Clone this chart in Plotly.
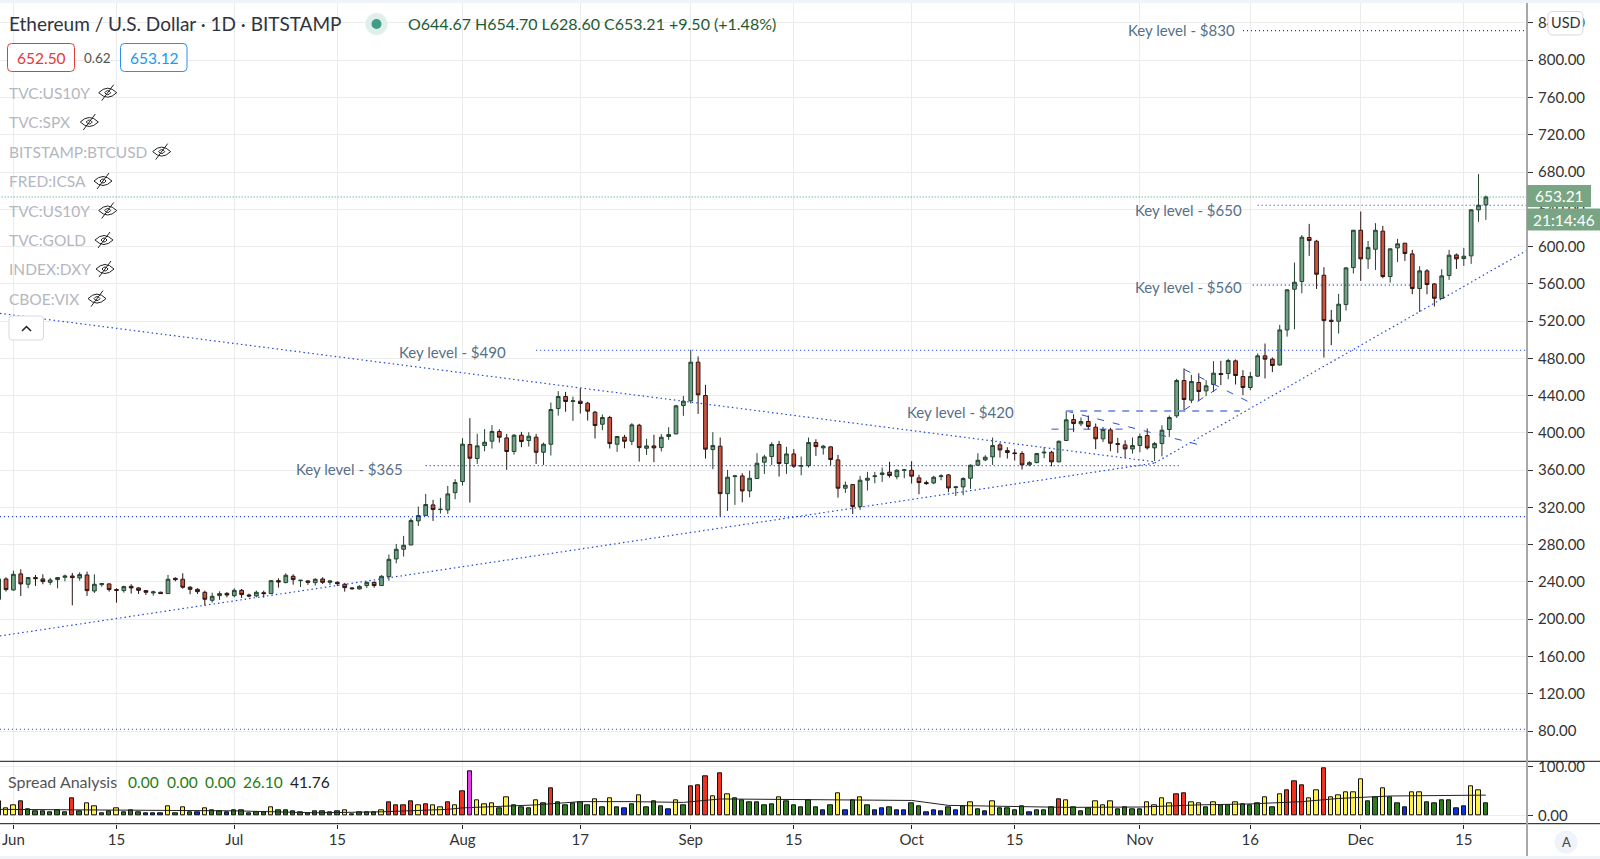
import pandas as pd
import plotly.graph_objects as go

FONT = "Lato"

# --- Daily candles, 2020-05-30 .. 2020-12-18
opens = [221.4, 243.2,
    231.4,248.6,237.5,244.7,243.2,239.6,242.5,245,246.4,244.3,247.5,230.3,237.1,237.9,231.8,230.7,235.3,233.6,230.7,228.2,228.9,227.5,243.9,242.9,234.3,232.1,228.9,220.3,225.3,227.8,
    225.3,231,226,225,228.5,227.5,241.4,239.3,246.1,241.4,241.1,239.3,243.2,239.6,239.6,237.5,233.6,232.5,236.1,239.6,236.1,245.7,264.7,275.1,279.7,305.5,311.2,322.7,317.7,317.3,335.9,
    347.8,387.5,372.5,386.4,391.1,401.4,394.6,380,397.5,391.8,395.3,379.2,387.8,426.1,439,433.7,434,431.9,422.2,409.3,416.5,387.8,395.3,391,408.2,383.5,386,384.2,396.1,398.9,429.4,
    434.4,475.9,440.1,382.1,385.7,334.8,353.1,353.8,337.7,351,368.5,374.6,387.5,367.1,377.4,364.2,364.9,389.6,383.9,385,371,340.6,344.5,320.9,349.2,353.1,355.3,357.8,353.1,359.9,
    359.9,351.7,346.7,346.3,353.1,354.9,341.3,342,351.3,365.3,371,374.2,387.1,381,378.5,377.8,365.6,368.1,378.5,379.2,368.9,391.8,414.3,409.7,412.2,406.1,393.6,403.2,388.5,387.1,382.8,
    386.4,397.1,383.9,388.5,403.6,418.3,456.2,435.1,454.1,445.1,451.9,463.7,463.7,477.3,460.5,448.7,460.9,482.7,479.1,472.9,510.5,554.2,562.4,609.7,605.7,569.2,520.9,519.8,537.7,577.4,
    617.5,586.8,597.1,616.5,567.8,598.6,603.6,592.1,554.9,573.9,559.9,544.2,568.9,591,587.1,590,639.4,644.67]
closes = [243.2, 231.8,
    248.2,237.9,244.7,243.6,240.4,242.1,244.7,246.4,244.7,247.9,230.7,237.5,238.2,231.8,231,235,233.6,231,228.9,229.3,227.5,242.9,242.5,234.3,232.1,229.6,221.4,224.6,227.5,226,
    231,226.4,225,228.9,227.5,241.4,240,247.2,242.5,241.8,239.6,242.9,239.6,241.1,238.2,233.9,232.8,235.3,239.6,236.1,246.1,264.3,275.1,279.4,305.9,311.2,323.1,317.7,318,334.5,346.7,
    387.9,372.8,386.1,390,401.5,395.3,380,397.5,390.7,396.4,379.2,387.8,425.1,439,433.7,434.4,431.5,423.3,407.9,416.5,388.5,396.1,391,408.6,384.2,386,383.9,395.3,398.2,429,434,
    475.9,440.8,382.5,386.4,334.8,352.4,353.8,337.7,351.3,367.4,374.2,387.5,367.1,377.4,364.2,364.9,389.6,385.3,385.7,371.4,340.6,343.8,320.9,349.2,351.3,353.8,357,354.2,359.9,360.3,
    353.5,346.7,345.6,352.4,353.8,340.9,342,351,365.3,370.6,373.9,386.4,381.7,378.9,377.8,365.6,368.1,377.8,379.2,368.9,391,414,410,412.2,406.8,393.6,403.6,388.9,387.8,382.8,386.4,
    396.1,383.9,388.5,402.9,416.5,456.2,435.8,455.1,444.4,450.5,464.1,462.7,477.7,461.6,448.7,460.5,482.7,479.1,472.3,510.5,553.5,561.7,610,606.4,570.3,520.5,519.8,538.1,577.1,617.5,
    586.8,598.9,617.5,567.8,597.5,602.9,592.5,554.9,573.9,559.2,544.5,568.5,590.7,586.8,589.6,639.4,644.4,653.21]
highs = [244, 245,
    252.2,253.6,245,247.5,248.2,244.3,245,247.9,249.7,250.4,251.1,248.2,238.9,238.6,233.2,236,237.5,234.3,231.4,230.7,229.6,247.5,245,249.3,235.7,233.2,230.7,228.5,230,228.9,
    233.2,232.5,227.5,230.7,230.7,242.1,243.9,249.3,248.2,242.1,241.8,243.9,245,242.1,240.7,238.9,234.3,236.4,240.4,240.4,247.2,269.4,280.8,289.4,308.4,320.9,334.5,328.1,330.2,343.1,350.3,
    394.3,415.8,399,404,408.3,403.9,398.9,398.6,401.1,400.7,398.9,389.6,432.6,444.8,444,439,448,433.3,423.6,419.7,418.3,396.8,397.9,410.4,409.7,393.6,397.9,398.6,406.1,430.1,439.7,
    489.1,482,451.6,400.7,395,360.3,354.9,356.7,359.5,378.2,376.4,390,391.4,385,382.5,374.6,395,393.2,387.1,385.3,376.4,347.7,345.2,353.8,358.1,358.1,362.8,368.9,361,361.3,
    369.6,354.9,348.8,353.8,355.6,355.6,343.1,352.4,366,378.2,376,395,389.3,384.6,382.5,380.3,369.6,378.5,384.6,380.7,391.8,423.3,420,416.5,418.6,410,406.4,405.4,394.6,392.1,395,
    399.3,404.7,390.3,408.2,418.6,458,469.1,462.3,464.1,456.6,477,477.3,479.5,478.8,467.3,465.5,485.2,495.9,480.9,515.9,554.2,582.8,612.2,624.3,607.2,577.8,532,549.2,577.8,617.9,
    637.6,606.1,625.1,622.2,598.2,608.2,603.9,596.4,578.9,575.7,560.6,575.7,596.4,592.5,598.6,640.1,677.7,654.7]
lows = [219, 229.6,
    230.7,225,233.2,235.7,237.5,236.8,233.2,240.7,214.9,241.4,225,228.2,235,229.6,217.8,228.5,227.5,227.1,226,225.3,227.1,227.1,240.7,232.8,226.8,227.1,214.9,217.8,220.7,223.5,
    223.5,222.8,223.5,223.5,223.2,227.1,233.9,238.6,237.1,234.6,236.8,236.1,237.9,236.8,235.7,229.6,231.8,231.8,233.6,233.9,235.7,241.4,260,267.2,279.4,300.1,310.9,305.5,313.4,313,328.8,
    343.5,325.2,366.7,380.3,383.2,389.6,360.3,376.7,384.6,385.3,366.7,365.6,375.7,418.6,422.6,412.9,420.8,413.2,393.9,402.9,383.2,379.6,383.5,386.8,369.2,376.4,368.5,380,392.5,398.6,418.3,
    431.5,420.4,372.4,361,310.1,316.2,322.7,325.5,330.9,350.6,356,365.3,353.1,356,362.4,354.5,362.8,375.3,376.7,365.3,330.5,335.6,313,317.3,338.1,345.9,347.4,352,350.2,351.3,
    345.6,334.1,344.2,344.9,349.2,336.3,332.3,333.1,339.9,364.6,369.6,365.6,373.5,372.4,370.3,360.6,364.2,367.4,372.8,364.2,368.5,391.4,401.1,407.2,403.6,382.5,390.3,380.3,378.5,373.2,377.8,
    379.2,382.1,369.9,374.9,395.7,416.1,423.3,431.9,434,439.4,444,451.2,457.6,451.9,440.5,445.8,460.1,458.4,465.2,472.2,503.3,511.2,549.9,590,554.5,480.8,494,506.6,531.3,571,
    563.1,576,574.9,566,561.3,583.5,584.6,548.8,529.8,548.8,535.6,543.8,564.2,576,579.2,581.4,626.5,628.6]

# --- Spread Analysis histogram
spread = [28.6, 15,
    21.8,28.6,12.2,9.5,8.8,6.8,10.9,6.8,35.4,8.8,25.8,19,4.8,8.8,15.6,7.5,10.2,6.8,5.4,5.4,4.8,19,4.8,17.7,7.5,6.8,15.6,10.9,9.5,6.1,
    10.9,10.2,5.4,6.8,6.8,16.3,10.2,10.2,9.5,7.5,5.4,8.2,8.2,7.5,8.2,10.2,4,7.5,7.5,7.5,11.6,27.9,20.4,20.4,28.6,20.4,23.1,21.8,16.3,27.9,20.4,
    50.3,90.5,32,23.1,24.5,15,37.4,21.8,17,15.6,32,24.5,55.8,27.2,21.1,24.5,26.5,21.1,34,17,34.7,17.7,14.3,23.1,40.8,17,28.6,18.4,12.9,32,21.8,
    59.2,61.9,79.6,38.8,85.7,44.2,34.7,32,27.9,27.9,21.1,23.1,38.1,29.3,21.1,17.7,31.3,17,11.6,20.4,45.6,11.6,32,36.7,20.4,10.2,15,17,10.2,10.2,
    24.5,19,6.8,10.2,8.2,17.7,10.2,19,27.9,12.9,8.2,29.3,15,15,11.6,19,6.8,10.2,11.6,16.3,34,30.6,17.7,8.8,14.3,29.3,20.4,29.3,12.9,17,12.9,
    12.9,27.2,20.4,34.7,25.8,43.5,44.9,27.9,25.8,17,27.2,20.4,20.4,27.2,23.1,21.8,25.2,38.1,17,43.5,51,70.7,61.9,34.7,51.7,95.9,36.7,42.2,46.9,46.9,
    74.1,29.3,37.4,55.1,38.1,25.2,17.7,46.9,47.6,27.2,25.2,31.3,31.3,15,19,59.2,51,26.1]
spread_classes = ("RY"
    "YRGGGGGGRGYYGGYGGGBBBYGYGBYGGB"
    "GGGGGYGGGGGGGGGYGGGGYRRRRYRYYRY"
    "RMYYYGYGGGYGRGGGGGYGYGBGYGGGBYG"
    "RRRYRYGGGGGGYGGGGGBGYBGYGBBGBB"
    "GGBBBGBGYGBYGGGGBGGGRYGGGYYYGGG"
    "GYYYYRRYYGYGGYGGGYGYRRRYYRYYYY"
    "YGGYGGBYYGGGGBBYYG")
ma_dates = ["2020-05-30","2020-06-16","2020-06-23","2020-07-01","2020-07-12","2020-07-21","2020-07-30","2020-08-01",
            "2020-08-11","2020-08-17","2020-08-24","2020-08-31","2020-09-05","2020-09-16","2020-10-01","2020-10-06",
            "2020-10-15","2020-10-22","2020-11-01","2020-11-09","2020-11-16","2020-11-23","2020-11-28","2020-12-05","2020-12-18"]
ma_values = [13,11.6,11.6,10,6,8,13,16,22,28.6,28.6,27,34,32.6,31,21,18,17,17.7,22,24,28.6,35,40,41.76]

# --- Axis ticks
x_tick_dates = ["2020-06-01","2020-06-15","2020-07-01","2020-07-15","2020-08-01","2020-08-17","2020-09-01",
                "2020-09-15","2020-10-01","2020-10-15","2020-11-01","2020-11-16","2020-12-01","2020-12-15"]
x_tick_labels = ["Jun","15","Jul","15","Aug","17","Sep","15","Oct","15","Nov","16","Dec","15"]
price_ticks = list(range(80, 841, 40))
spread_ticks = [0, 100]

# --- Drawn levels: (start, end, value)
dotted_levels = [("2020-05-30 04:00","2020-12-23 14:00",310.2),
                 ("2020-05-30 04:00","2020-12-23 14:00",81.9),
                 ("2020-11-15","2020-12-23 14:00",831.8),
                 ("2020-11-17","2020-12-23 14:00",644.3),
                 ("2020-11-16 08:00","2020-12-07 16:00",558.5),
                 ("2020-08-11","2020-12-23 14:00",488.7),
                 ("2020-07-27","2020-11-06 14:00",364.8)]
# --- Trend lines: (date0, value0, date1, value1)
dotted_trends = [("2020-05-30 04:00",528.3,"2020-11-03",369),
                 ("2020-05-30 04:00",182,"2020-11-03",367.6),
                 ("2020-11-03",367.6,"2020-12-23 14:00",596)]
dark_dashes = [("2020-10-22",423.5,"2020-11-09 16:00",386),
               ("2020-10-20",404,"2020-10-30",404),
               ("2020-11-07",468.3,"2020-11-15 22:00",432.8),
               ("2020-11-07",424.5,"2020-11-11 22:00",449.6)]
light_dashes = [("2020-10-22",423.5,"2020-11-14 14:00",423.5)]

last_close = 653.21
dates = pd.date_range("2020-05-30", periods=len(opens), freq="D")
assert len(opens) == len(closes) == len(highs) == len(lows) == len(spread) == len(spread_classes) == 203

W, H = 1600, 859
AXIS_X = 1527
def px(x): return x / W
def py(y): return 1 - y / H

class_colors = {"R": "#f0321e", "Y": "#fff04a", "G": "#2f7a1d", "B": "#0a2fe8", "M": "#e83de8"}

fig = go.Figure()
fig.add_trace(go.Candlestick(
    x=dates, open=opens, high=highs, low=lows, close=closes, whiskerwidth=0, xaxis="x", yaxis="y",
    increasing=dict(line=dict(color="#24402f", width=1), fillcolor="#6fa284"),
    decreasing=dict(line=dict(color="#2a1512", width=1), fillcolor="#cd5540"),
    showlegend=False, hoverinfo="skip"))

def seg(x0, v0, x1, v1, color, dash, width):
    fig.add_trace(go.Scatter(x=[x0, x1], y=[v0, v1], mode="lines", xaxis="x", yaxis="y",
                             line=dict(color=color, width=width, dash=dash),
                             showlegend=False, hoverinfo="skip"))

for d0, d1, v in dotted_levels:
    seg(d0, v, d1, v, "#0f2fd0", "1px 3px", 1.2)
for d0, v0, d1, v1 in dotted_trends:
    seg(d0, v0, d1, v1, "#2348d2", "1.5px 3px", 1.2)
for d0, v0, d1, v1 in dark_dashes:
    seg(d0, v0, d1, v1, "#2a50d8", "7px 9px", 1)
for d0, v0, d1, v1 in light_dashes:
    seg(d0, v0, d1, v1, "#8a9ee2", "7px 7px", 2)
seg(dates[0], last_close, "2020-12-23 14:00", last_close, "#2f9a5e", "1px 2px", 1)

fig.add_trace(go.Bar(x=dates, y=spread, xaxis="x", yaxis="y2",
                     marker=dict(color=[class_colors[c] for c in spread_classes],
                                 line=dict(color="#111111", width=1)),
                     width=4.4 / 7.37 * 86400000, showlegend=False, hoverinfo="skip"))
fig.add_trace(go.Scatter(x=ma_dates, y=ma_values, mode="lines", xaxis="x", yaxis="y2",
                         line=dict(color="#222222", width=1), showlegend=False, hoverinfo="skip"))

shapes, annotations = [], []

def text(x, y, s, size=15, color="#333333", anchor="left"):
    shift = -2.5 if anchor == "left" else 0
    annotations.append(dict(x=px(x + shift), y=py(y), xref="paper", yref="paper", text=s, showarrow=False,
                            xanchor=anchor, yanchor="middle", align=anchor,
                            font=dict(family=FONT, size=size, color=color)))

def box(x0, y0, x1, y1, line="rgba(0,0,0,0)", fill="#ffffff", lw=1):
    shapes.append(dict(type="rect", xref="paper", yref="paper", x0=px(x0), x1=px(x1), y0=py(y0), y1=py(y1),
                       line=dict(color=line, width=lw), fillcolor=fill, layer="above"))

def rounded(x0, y0, x1, y1, r, line, fill="#ffffff", lw=1):
    p = (f"M{px(x0+r)},{py(y0)} L{px(x1-r)},{py(y0)} Q{px(x1)},{py(y0)} {px(x1)},{py(y0+r)} "
         f"L{px(x1)},{py(y1-r)} Q{px(x1)},{py(y1)} {px(x1-r)},{py(y1)} L{px(x0+r)},{py(y1)} "
         f"Q{px(x0)},{py(y1)} {px(x0)},{py(y1-r)} L{px(x0)},{py(y0+r)} Q{px(x0)},{py(y0)} {px(x0+r)},{py(y0)} Z")
    shapes.append(dict(type="path", xref="paper", yref="paper", path=p, layer="above",
                       line=dict(color=line, width=lw), fillcolor=fill))

def hline(y, x0, x1, color, width):
    shapes.append(dict(type="line", xref="paper", yref="paper", x0=px(x0), x1=px(x1), y0=py(y), y1=py(y),
                       line=dict(color=color, width=width), layer="above"))

def circle(cx, cy, r, fill):
    shapes.append(dict(type="circle", xref="paper", yref="paper", x0=px(cx-r), x1=px(cx+r), y0=py(cy-r), y1=py(cy+r),
                       line=dict(width=0), fillcolor=fill, layer="above"))

def eye(cx, cy):
    p = (f"M{px(cx-9)},{py(cy)} Q{px(cx)},{py(cy-9)} {px(cx+9)},{py(cy)} Q{px(cx)},{py(cy+9)} {px(cx-9)},{py(cy)} Z "
         f"M{px(cx-3)},{py(cy)} Q{px(cx)},{py(cy-4)} {px(cx+3)},{py(cy)} Q{px(cx)},{py(cy+4)} {px(cx-3)},{py(cy)} Z "
         f"M{px(cx-6)},{py(cy+8)} L{px(cx+6)},{py(cy-8)}")
    shapes.append(dict(type="path", xref="paper", yref="paper", path=p, line=dict(color="#222222", width=1), layer="above"))

# Frame
box(0, 0, W, 3, fill="#f0f3fa")
box(0, 856, W, H, fill="#f0f3fa")
hline(761.3, 0, W, "#111111", 1)
hline(823.7, 0, W, "#111111", 1)
shapes.append(dict(type="line", xref="paper", yref="paper", x0=px(AXIS_X), x1=px(AXIS_X), y0=py(3), y1=py(856),
                   line=dict(color="#a8a8a8", width=2), layer="above"))

# Header
text(9, 23.5, "Ethereum / U.S. Dollar · 1D · BITSTAMP", 19, "#2f3340")
circle(376.5, 24, 11, "#dff0ea")
circle(376.5, 24, 5, "#3f9c86")
text(408, 24, "O644.67 H654.70 L628.60 C653.21 +9.50 (+1.48%)", 16, "#1d5c32")
rounded(7.5, 43.5, 74.5, 71.5, 4, "#e03c3c")
text(41, 58, "652.50", 15.5, "#e53935", "center")
text(97, 58, "0.62", 13.5, "#555555", "center")
rounded(120.5, 43.5, 187, 71.5, 4, "#2e8fe6")
text(154, 58, "653.12", 15.5, "#2196f3", "center")

hidden_series = [("TVC:US10Y", 92.7, 107.7), ("TVC:SPX", 122, 89.3), ("BITSTAMP:BTCUSD", 151.6, 161.7),
                 ("FRED:ICSA", 181, 103), ("TVC:US10Y", 210.5, 107.7), ("TVC:GOLD", 240, 104),
                 ("INDEX:DXY", 269, 105), ("CBOE:VIX", 298.6, 97)]
for name, y, ex in hidden_series:
    text(9, y, name, 15.5, "#b4b7bf")
    eye(ex, y)
rounded(9, 316, 43.5, 340, 3, "#d6d9e0")
shapes.append(dict(type="path", xref="paper", yref="paper", layer="above", line=dict(color="#222222", width=1.5),
                   path=f"M{px(22)},{py(331)} L{px(26.5)},{py(326.5)} L{px(31)},{py(331)}"))

# Key-level labels
key_labels = [("Key level - $830", 1128, 30), ("Key level - $650", 1135, 210), ("Key level - $560", 1135, 287),
              ("Key level - $490", 399, 352), ("Key level - $420", 907, 412), ("Key level - $365", 296, 469)]
for s, x, y in key_labels:
    text(x, y, s, 15, "#56708a")

# Spread legend
text(8.6, 781.5, "Spread Analysis", 16, "#555555")
for s, x, c in [("0.00", 128.8, "#1f7d12"), ("0.00", 167, "#1f7d12"), ("0.00", 205.6, "#1f7d12"),
                ("26.10", 243.8, "#1f7d12"), ("41.76", 290, "#222222")]:
    text(x, 781.5, s, 15.5, c)

# Right-hand tags
box(AXIS_X, 185, 1591, 207, fill="#7aa585")
text(1559, 196, "653.21", 15.5, "#ffffff", "center")
box(AXIS_X, 208.5, W, 230.5, fill="#7aa585")
text(1564, 219.5, "21:14:46", 15.5, "#ffffff", "center")
rounded(1548, 11.5, 1583, 35, 5, "#d6d9e0")
text(1565.5, 23, "USD", 14.5, "#333333", "center")
circle(1566, 842, 11.5, "#f0f3fa")
text(1566, 842, "A", 13, "#444444", "center")

axis_font = dict(family=FONT, size=15, color="#333333")
grid = "#ececec"
fig.update_layout(
    width=W, height=H, margin=dict(l=0, r=0, t=0, b=0, autoexpand=False), paper_bgcolor="#ffffff", plot_bgcolor="#ffffff",
    showlegend=False, boxgap=0.28, bargap=0, shapes=shapes, annotations=annotations,
    xaxis=dict(type="date", domain=[0, px(AXIS_X)], range=["2020-05-30 04:20", "2020-12-23 14:00"],
               anchor="y2", tickmode="array", tickvals=x_tick_dates, ticktext=x_tick_labels,
               rangeslider=dict(visible=False), showgrid=True, gridcolor=grid, gridwidth=1, zeroline=False,
               ticks="outside", ticklen=4, tickcolor="#222222", tickfont=axis_font, showline=False,
               ticklabelstandoff=-2),
    yaxis=dict(domain=[py(761.3), py(3)], range=[47.5, 861.4], side="right", anchor="x",
               tickmode="array", tickvals=price_ticks, tickformat=".2f", showgrid=True, gridcolor=grid,
               zeroline=False, ticks="outside", ticklen=5, tickcolor="#333333", tickfont=axis_font, showline=False,
               ticklabelstandoff=2),
    yaxis2=dict(domain=[py(823.7), py(761.3)], range=[-16, 110.1], side="right", anchor="x",
                tickmode="array", tickvals=spread_ticks, tickformat=".2f", showgrid=True, gridcolor=grid,
                zeroline=False, ticks="outside", ticklen=5, tickcolor="#333333", tickfont=axis_font, showline=False,
                ticklabelstandoff=2),
)

fig.write_html("out.html", config=dict(displayModeBar=False),
               post_script="document.body.style.margin='0';document.body.style.overflow='hidden';")
